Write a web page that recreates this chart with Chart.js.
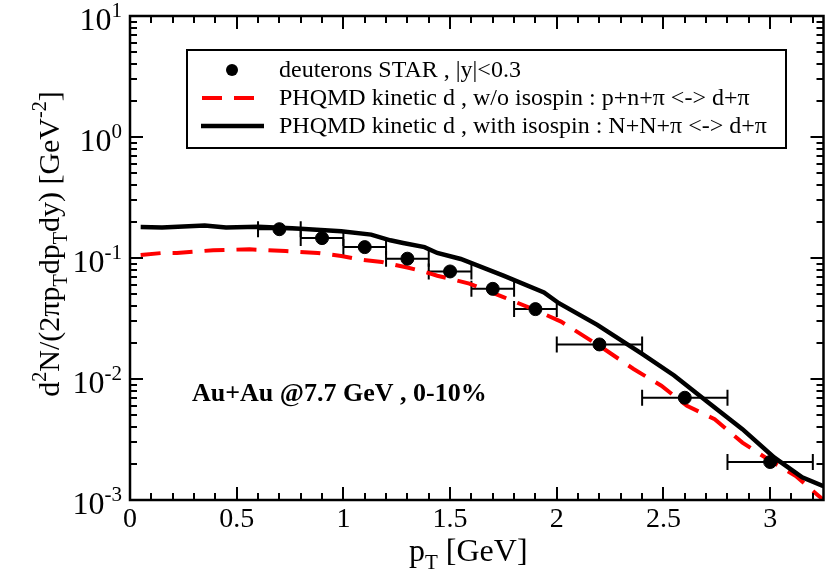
<!DOCTYPE html>
<html>
<head>
<meta charset="utf-8">
<script src="https://cdn.jsdelivr.net/npm/chart.js@4.4.0/dist/chart.umd.min.js"></script>
<style>
  html, body { margin: 0; padding: 0; background: #fff; }
  #wrap { width: 831px; height: 575px; }
</style>
</head>
<body>
<div id="wrap"><canvas id="chart" width="831" height="575"></canvas></div>
<script>
// STAR deuterons, Au+Au 7.7 GeV 0-10%
const starPt = [0.7, 0.9, 1.1, 1.3, 1.5, 1.7, 1.9, 2.2, 2.6, 3.0];
const starYield = [0.173, 0.146, 0.123, 0.0987, 0.0774, 0.0556, 0.0378, 0.0193, 0.0070, 0.00206];
const binLow = [0.6, 0.8, 1.0, 1.2, 1.4, 1.6, 1.8, 2.0, 2.4, 2.8];
const binHigh = [0.8, 1.0, 1.2, 1.4, 1.6, 1.8, 2.0, 2.4, 2.8, 3.2];

// PHQMD kinetic d, w/o isospin
const noIsoPt = [0.05, 0.15, 0.22, 0.39, 0.56, 0.73, 0.88, 0.99, 1.07, 1.18, 1.3, 1.38, 1.44, 1.59, 1.75, 1.9, 2.02, 2.21, 2.36, 2.49, 2.61, 2.74, 2.87, 2.99, 3.12, 3.21, 3.25];
const noIsoYield = [0.106, 0.110, 0.110, 0.116, 0.118, 0.114, 0.110, 0.104, 0.0976, 0.0927, 0.0834, 0.0769, 0.0714, 0.0615, 0.0475, 0.0371, 0.0298, 0.0183, 0.0121, 0.0088, 0.0060, 0.00465, 0.00298, 0.00217, 0.00158, 0.00115, 0.0010];

// PHQMD kinetic d, with isospin
const isoPt = [0.05, 0.15, 0.35, 0.45, 0.6, 0.76, 0.99, 1.13, 1.22, 1.28, 1.38, 1.44, 1.55, 1.75, 1.94, 2.01, 2.19, 2.4, 2.55, 2.71, 2.87, 3.02, 3.15, 3.25];
const isoYield = [0.180, 0.179, 0.186, 0.179, 0.181, 0.176, 0.166, 0.156, 0.140, 0.133, 0.123, 0.110, 0.0982, 0.0714, 0.0519, 0.0423, 0.0280, 0.0161, 0.0107, 0.0064, 0.00385, 0.00224, 0.00154, 0.0013];

const legendLabels = [
    'deuterons STAR , |y|<0.3',
    'PHQMD kinetic d , w/o isospin : p+n+\u03c0 <-> d+\u03c0',
    'PHQMD kinetic d , with isospin : N+N+\u03c0 <-> d+\u03c0'
];
const xTicks = [0, 0.5, 1, 1.5, 2, 2.5, 3];
const xTickLabels = ['0', '0.5', '1', '1.5', '2', '2.5', '3'];
const yTicks = [0.001, 0.01, 0.1, 1, 10];
const yTickExp = ['-3', '-2', '-1', '0', '1'];
const note = 'Au+Au @7.7 GeV , 0-10%';

const SERIF = '"Liberation Serif", "DejaVu Serif", serif';

function toPoints(xs, ys) {
    return xs.map((x, i) => ({ x: x, y: ys[i] }));
}

// draw a run of text pieces: [text, 'n'|'sup'|'sub']
function drawRich(ctx, parts, x, y, size) {
    let cx = x;
    parts.forEach(([t, kind]) => {
        const s = kind === 'n' ? size : Math.round(size * 0.66);
        const dy = kind === 'sup' ? -size * 0.42 : kind === 'sub' ? size * 0.25 : 0;
        ctx.font = s + 'px ' + SERIF;
        ctx.fillText(t, cx, y + dy);
        cx += ctx.measureText(t).width;
    });
    return cx - x;
}
function richWidth(ctx, parts, size) {
    let w = 0;
    parts.forEach(([t, kind]) => {
        const s = kind === 'n' ? size : Math.round(size * 0.66);
        ctx.font = s + 'px ' + SERIF;
        w += ctx.measureText(t).width;
    });
    return w;
}

const framePlugin = {
    id: 'frame',
    beforeDatasetsDraw(chart) {
        const ctx = chart.ctx;
        const xs = chart.scales.x, ys = chart.scales.y;
        // horizontal bin-width bars
        ctx.save();
        ctx.strokeStyle = '#000';
        ctx.lineWidth = 2;
        starPt.forEach((p, i) => {
            const py = ys.getPixelForValue(starYield[i]);
            const x1 = xs.getPixelForValue(binLow[i]);
            const x2 = xs.getPixelForValue(binHigh[i]);
            ctx.beginPath();
            ctx.moveTo(x1, py); ctx.lineTo(x2, py);
            ctx.moveTo(x1, py - 8); ctx.lineTo(x1, py + 8);
            ctx.moveTo(x2, py - 8); ctx.lineTo(x2, py + 8);
            ctx.stroke();
        });
        ctx.restore();
    },
    afterDraw(chart) {
        const ctx = chart.ctx;
        const a = chart.chartArea;
        const xs = chart.scales.x, ys = chart.scales.y;
        ctx.save();
        ctx.strokeStyle = '#000';
        ctx.fillStyle = '#000';

        // ticks on all four sides, pointing inward
        ctx.lineWidth = 2;
        ctx.beginPath();
        for (let k = 0; k <= 32; k++) {
            const v = k / 10;
            const px = Math.round(xs.getPixelForValue(v));
            const len = k % 5 === 0 ? 13 : 7;
            ctx.moveTo(px, a.bottom); ctx.lineTo(px, a.bottom - len);
            ctx.moveTo(px, a.top); ctx.lineTo(px, a.top + len);
        }
        for (let e = -3; e <= 1; e++) {
            for (let m = 1; m <= 9; m++) {
                if (e === 1 && m > 1) break;
                const py = Math.round(ys.getPixelForValue(m * Math.pow(10, e)));
                const len = m === 1 ? 13 : 7;
                ctx.moveTo(a.left, py); ctx.lineTo(a.left + len, py);
                ctx.moveTo(a.right, py); ctx.lineTo(a.right - len, py);
            }
        }
        ctx.stroke();

        // frame
        ctx.lineWidth = 2.5;
        ctx.strokeRect(a.left, a.top, a.right - a.left, a.bottom - a.top);

        // x tick labels
        ctx.textAlign = 'center';
        ctx.textBaseline = 'alphabetic';
        ctx.font = '28px ' + SERIF;
        xTicks.forEach((v, i) => {
            ctx.fillText(xTickLabels[i], xs.getPixelForValue(v), a.bottom + 27);
        });

        // y tick labels 10^n
        ctx.textAlign = 'left';
        yTicks.forEach((v, i) => {
            const py = ys.getPixelForValue(v);
            const parts = [['10', 'n'], [yTickExp[i], 'sup']];
            const w = richWidth(ctx, parts, 32);
            drawRich(ctx, parts, a.left - 8 - w, py + 14, 32);
        });

        // x title
        const xt = [['p', 'n'], ['T', 'sub'], [' [GeV]', 'n']];
        drawRich(ctx, xt, 409, 561, 32);

        // y title, rotated
        const yt = [['d', 'n'], ['2', 'sup'], ['N/(2\u03c0p', 'n'], ['T', 'sub'], ['dp', 'n'], ['T', 'sub'],
                    ['dy) [GeV', 'n'], ['-2', 'sup'], [']', 'n']];
        const yw = richWidth(ctx, yt, 30);
        ctx.save();
        ctx.translate(59, 244);
        ctx.rotate(-Math.PI / 2);
        drawRich(ctx, yt, -yw / 2, 0, 30);
        ctx.restore();

        // annotation
        ctx.font = 'bold 26px ' + SERIF;
        ctx.textAlign = 'left';
        ctx.fillText(note, 192, 401);

        // legend box
        const ds = chart.data.datasets;
        ctx.lineWidth = 2;
        ctx.strokeStyle = '#000';
        ctx.fillStyle = '#fff';
        ctx.fillRect(187, 50, 599, 98);
        ctx.strokeRect(187, 50, 599, 98);
        const rows = [70, 98, 126];
        // marker
        ctx.fillStyle = ds[0].backgroundColor;
        ctx.beginPath();
        ctx.arc(232, rows[0], 6, 0, Math.PI * 2);
        ctx.fill();
        // dashed
        ctx.strokeStyle = ds[1].borderColor;
        ctx.lineWidth = ds[1].borderWidth;
        ctx.setLineDash(ds[1].borderDash);
        ctx.beginPath();
        ctx.moveTo(202, rows[1]); ctx.lineTo(262, rows[1]);
        ctx.stroke();
        ctx.setLineDash([]);
        // solid
        ctx.strokeStyle = ds[2].borderColor;
        ctx.lineWidth = ds[2].borderWidth;
        ctx.beginPath();
        ctx.moveTo(201, rows[2]); ctx.lineTo(264, rows[2]);
        ctx.stroke();
        // texts
        ctx.fillStyle = '#000';
        ctx.font = '24px ' + SERIF;
        ctx.textBaseline = 'middle';
        legendLabels.forEach((t, i) => ctx.fillText(t, 279, rows[i] + 1));
        ctx.restore();
    }
};

const chart = new Chart(document.getElementById('chart'), {
    type: 'scatter',
    data: {
        datasets: [
            {
                label: legendLabels[0],
                data: toPoints(starPt, starYield),
                backgroundColor: '#000',
                borderColor: '#000',
                pointRadius: 6.5,
                showLine: false,
                order: 0
            },
            {
                label: legendLabels[1],
                data: toPoints(noIsoPt, noIsoYield),
                borderColor: '#ff0000',
                borderWidth: 4,
                borderDash: [20, 12],
                pointRadius: 0,
                showLine: true,
                tension: 0,
                order: 2
            },
            {
                label: legendLabels[2],
                data: toPoints(isoPt, isoYield),
                borderColor: '#000',
                borderWidth: 4.5,
                pointRadius: 0,
                showLine: true,
                tension: 0,
                order: 1
            }
        ]
    },
    options: {
        responsive: false,
        animation: false,
        layout: { padding: { left: 122, right: 6, top: 16, bottom: 67 } },
        plugins: { legend: { display: false }, tooltip: { enabled: false } },
        scales: {
            x: {
                type: 'linear', min: 0, max: 3.25,
                grid: { display: false },
                border: { display: false },
                ticks: { display: false }
            },
            y: {
                type: 'logarithmic', min: 0.001, max: 10,
                grid: { display: false },
                border: { display: false },
                ticks: { display: false }
            }
        }
    },
    plugins: [framePlugin]
});
</script>
</body>
</html>
